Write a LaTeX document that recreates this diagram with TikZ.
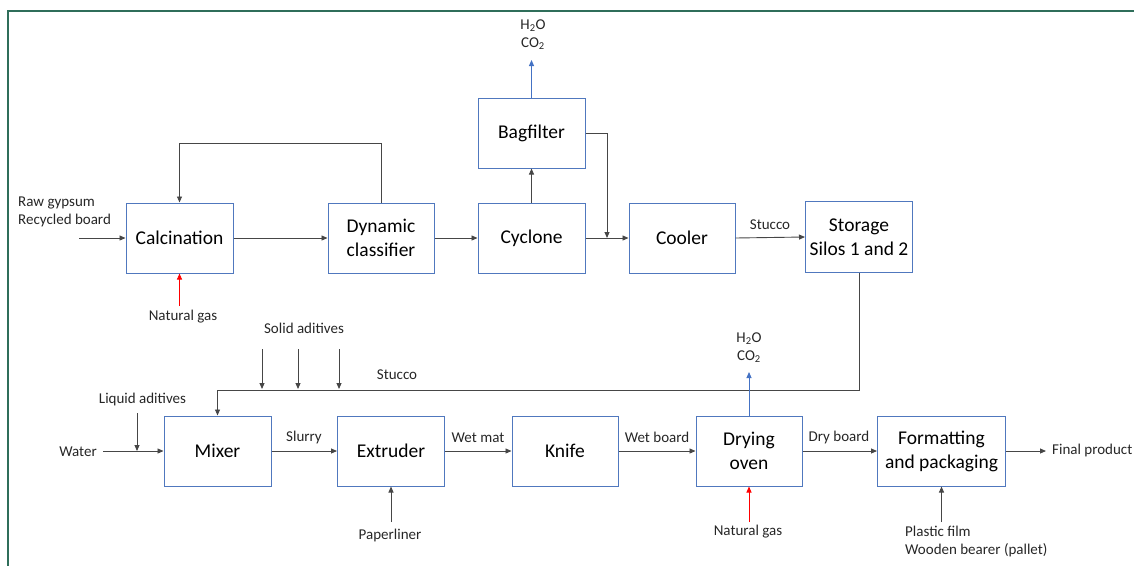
\documentclass[tikz,border=0pt]{standalone}
\usepackage{fontspec}
\setmainfont{Carlito}
\usetikzlibrary{arrows.meta}
\definecolor{boxblue}{RGB}{80,120,190}
\definecolor{framegreen}{RGB}{47,110,90}
\definecolor{linegray}{RGB}{70,70,70}
\definecolor{arrowred}{RGB}{255,0,0}
\definecolor{arrowblue}{RGB}{68,114,196}
\begin{document}
\begin{tikzpicture}[x=1pt,y=-1pt,
  proc/.style={draw=boxblue,line width=1pt,fill=white,minimum width=107pt,minimum height=70pt,inner sep=0pt,align=center,font=\fontsize{19.5}{24}\selectfont},
  lbl/.style={inner sep=0pt,align=center,font=\fontsize{15}{18}\selectfont,text=black!85},
  arr/.style={draw=linegray,line width=0.9pt,-{Triangle[length=6pt,width=5pt]}},
  arrred/.style={arr,draw=arrowred,-{Triangle[length=6pt,width=5pt,fill=arrowred]}},
  arrblue/.style={arr,draw=arrowblue,-{Triangle[length=6pt,width=5pt,fill=arrowblue]}},
  plain/.style={draw=linegray,line width=0.9pt}]
\useasboundingbox (0,0) rectangle (1134,565);
\clip (0,0) rectangle (1134,565);
\draw[framegreen,line width=2pt] (8,10.5) rectangle (1150,580);

% process boxes
\node[proc] (calc) at (179.5,238) {Calcination};
\node[proc,minimum width=106pt] (dyn) at (381,238) {Dynamic\\classifier};
\node[proc] (cyc) at (531.5,238) {Cyclone};
\node[proc] (bag) at (531.5,133) {Bagfilter};
\node[proc,minimum width=106pt] (cool) at (682,238) {Cooler};
\node[proc,minimum height=71pt] (stor) at (859,237) {Storage\\Silos 1 and 2};
\node[proc] (mix) at (217.5,451) {Mixer};
\node[proc] (ext) at (391,451) {Extruder};
\node[proc,minimum width=106pt] (knife) at (565,451) {Knife};
\node[proc,minimum width=106pt] (dry) at (749,451) {Drying\\oven};
\node[proc,minimum width=128pt] (fmt) at (941.5,451) {Formatting\\and packaging};

% free ends
\coordinate (rawin) at (79,238);
\coordinate (join) at (607,238);
\coordinate (bagout) at (531.5,60);
\coordinate (ng1) at (179.5,306);
\coordinate (s1t) at (262,349); \coordinate (s1b) at (262,389);
\coordinate (s2t) at (298,349); \coordinate (s2b) at (298,389);
\coordinate (s3t) at (339,349); \coordinate (s3b) at (339,389);
\coordinate (liqt) at (137,413); \coordinate (liqb) at (137,451);
\coordinate (water) at (103,451);
\coordinate (finalp) at (1046,451);
\coordinate (paper) at (391,522);
\coordinate (ng2) at (749,522);
\coordinate (dryout) at (749,372);
\coordinate (pack) at (941.5,522);

% labels
\node[lbl,align=left,anchor=west] (rawl) at (18,212) {Raw gypsum\\Recycled board};
\node[lbl] (gas1l) at (533,35) {H\textsubscript{2}O\\CO\textsubscript{2}};
\node[lbl] (ng1l) at (183,317) {Natural gas};
\node[lbl] (st1l) at (770,225) {Stucco};
\node[lbl] (solidl) at (304,328) {Solid aditives};
\node[lbl] (st2l) at (397,375) {Stucco};
\node[lbl] (liql) at (142.5,399) {Liquid aditives};
\node[lbl] (waterl) at (78,452) {Water};
\node[lbl] (slurl) at (304,437) {Slurry};
\node[lbl] (wml) at (478,438) {Wet mat};
\node[lbl] (wbl) at (657,437) {Wet board};
\node[lbl] (dbl) at (839,437) {Dry board};
\node[lbl,anchor=west] (finl) at (1052,450) {Final product};
\node[lbl] (papl) at (390,535) {Paperliner};
\node[lbl] (ng2l) at (748,532) {Natural gas};
\node[lbl] (gas2l) at (749,348) {H\textsubscript{2}O\\CO\textsubscript{2}};
\node[lbl,align=left,anchor=west] (packl) at (905,541) {Plastic film\\Wooden bearer (pallet)};

% connectors
\draw[arr] (rawin) -- (calc.west);
\draw[arr] (calc.east) -- (dyn.west);
\draw[arr] (dyn.east) -- (cyc.west);
\draw[arr] (cyc.east) -- (cool.west);
\draw[arr] (bag.east) -| (join);
\draw[arr] (cyc.north) -- (bag.south);
\draw[arrblue] (bag.north) -- (bagout);
\draw[arr] (dyn.north) -- ++(0,-59) -| (calc.north);
\draw[arrred] (ng1) -- (calc.south);
\draw[arr] (cool.east) -- (stor.west);
\draw[arr] (stor.south) -- ++(0,117) -| (mix.north);
\draw[arr] (s1t) -- (s1b);
\draw[arr] (s2t) -- (s2b);
\draw[arr] (s3t) -- (s3b);
\draw[arr] (liqt) -- (liqb);
\draw[arr] (water) -- (mix.west);
\draw[arr] (mix.east) -- (ext.west);
\draw[arr] (ext.east) -- (knife.west);
\draw[arr] (knife.east) -- (dry.west);
\draw[arr] (dry.east) -- (fmt.west);
\draw[arr] (fmt.east) -- (finalp);
\draw[arr] (paper) -- (ext.south);
\draw[arrred] (ng2) -- (dry.south);
\draw[arrblue] (dry.north) -- (dryout);
\draw[arr] (pack) -- (fmt.south);
\end{tikzpicture}
\end{document}
